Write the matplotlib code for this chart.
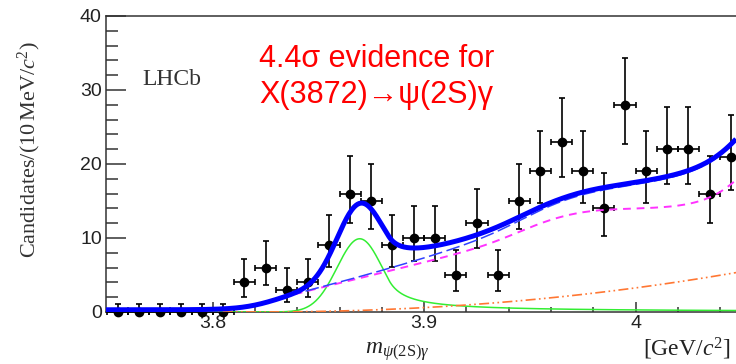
import numpy as np
import matplotlib
matplotlib.use("Agg")
import matplotlib.pyplot as plt
from matplotlib.ticker import MultipleLocator
from math import lgamma, exp, log

# ---- binned data: psi(2S) gamma candidates per 10 MeV/c^2 ----
bin_centers = [3.755, 3.765, 3.775, 3.785, 3.795, 3.805, 3.815, 3.825, 3.835, 3.845,
               3.855, 3.865, 3.875, 3.885, 3.895, 3.905, 3.915, 3.925, 3.935, 3.945,
               3.955, 3.965, 3.975, 3.985, 3.995, 4.005, 4.015, 4.025, 4.035, 4.045]
counts = [0, 0, 0, 0, 0, 0, 4, 6, 3, 4,
          9, 16, 15, 9, 10, 10, 5, 12, 5, 15,
          19, 23, 19, 14, 28, 19, 22, 22, 16, 21]
bin_width = 0.01

# ---- fit model parameters ----
# X(3872) signal: Gaussian core with a power-law tail on the high side
sig_peak, sig_mean, sig_sigma, sig_alpha, sig_n = 9.9, 3.8695, 0.0107, 1.3, 1.0
# smooth combinatorial/partially reconstructed background
bkg_base = 0.3
bkg_step0 = (2.2, 3.828, 0.008)        # height, centre, width
bkg_ramp = (70.0, 3.840, 3.975, 0.008) # slope, start, end, softness
bkg_step2 = (2.0, 3.945, 0.010)
bkg_step3 = (14.0, 4.058, 0.011)
# rising threshold component
thr_amp, thr_ref, thr_onset, thr_power = 5.3, 4.047, 3.82, 2.1

x_lo, x_hi = 3.7495, 4.0475
y_lo, y_hi = 0, 40


def logistic(z):
    return 1.0 / (1.0 + np.exp(-z))


def softplus(z):
    return np.logaddexp(0.0, z)


def signal(x):
    t = (x - sig_mean) / sig_sigma
    core = np.exp(-0.5 * t ** 2)
    a, n = sig_alpha, sig_n
    tail = (n / a) ** n * np.exp(-0.5 * a * a) / np.power(np.maximum(n / a - a + t, 1e-9), n)
    return sig_peak * np.where(t > a, tail, core)


def background_main(x):
    h0, c0, w0 = bkg_step0
    k, r0, r1, s = bkg_ramp
    h2, c2, w2 = bkg_step2
    h3, c3, w3 = bkg_step3
    ramp = k * s * (softplus((x - r0) / s) - softplus((x - r1) / s))
    return (bkg_base + h0 * logistic((x - c0) / w0) + ramp
            + h2 * logistic((x - c2) / w2) + h3 * logistic((x - c3) / w3))


def threshold(x):
    d = np.clip((x - thr_onset) / (thr_ref - thr_onset), 0, None)
    return thr_amp * d ** thr_power


def poisson_cdf(k, mu):
    return sum(exp(i * log(mu) - mu - lgamma(i + 1)) for i in range(k + 1)) if mu > 0 else 1.0


def garwood(n, cl=0.6827):
    """Central Poisson interval; one-sided upper limit for an empty bin."""
    def solve(f, lo, hi):
        for _ in range(80):
            mid = 0.5 * (lo + hi)
            if f(mid) > 0:
                lo = mid
            else:
                hi = mid
        return 0.5 * (lo + hi)
    a = (1 - cl) / 2
    if n == 0:
        return 0.0, -log(1 - cl)
    up = solve(lambda m: poisson_cdf(n, m) - a, n, n + 10 * np.sqrt(n) + 10)
    low = solve(lambda m: a - (1 - poisson_cdf(n - 1, m)), 0, n)
    return low, up


xc = np.array(bin_centers)
yc = np.array(counts, dtype=float)
intervals = [garwood(n) for n in counts]
err_lo = yc - np.array([i[0] for i in intervals])
err_hi = np.array([i[1] for i in intervals]) - yc

plt.rcParams['mathtext.fontset'] = 'custom'
plt.rcParams['mathtext.rm'] = 'Liberation Serif'
plt.rcParams['mathtext.it'] = 'Liberation Serif:italic'

W, H = 736, 364
fig = plt.figure(figsize=(W / 100, H / 100), dpi=100)
ax = fig.add_axes([106 / W, 1 - 312 / H, (W - 106) / W, (312 - 16) / H])

ax.errorbar(xc, yc, xerr=bin_width / 2, yerr=[err_lo, err_hi], fmt='o', color='black',
            ms=6, elinewidth=1.2, capsize=2.3, capthick=1.2, zorder=3, clip_on=False)

xs = np.linspace(x_lo, x_hi, 800)
sig = signal(xs)
bmain = background_main(xs)
thr = threshold(xs)
bkg_total = bmain + thr
total = bkg_total + sig

ax.plot(xs, sig, color='#33ee33', lw=1.1, zorder=4)
ax.plot(xs, thr, color='#ff7733', lw=1.2, dashes=(6, 2, 1, 2, 1, 2), zorder=4)
ax.plot(xs, bmain, color='#ff33ff', lw=1.4, dashes=(4, 3), zorder=5)
ax.plot(xs, bkg_total, color='#3040ff', lw=1.1, dashes=(9, 3), zorder=5)
ax.plot(xs, total, color='#0000ff', lw=3.6, zorder=6, solid_capstyle='butt')

ax.set_xlim(x_lo, x_hi)
ax.set_ylim(y_lo, y_hi)

spine_col = '#333333'
for side in ('left', 'top', 'bottom'):
    ax.spines[side].set_color(spine_col)
    ax.spines[side].set_linewidth(1.1)
ax.spines['right'].set_visible(False)

ax.xaxis.set_major_locator(MultipleLocator(0.1))
ax.xaxis.set_minor_locator(MultipleLocator(0.02))
ax.yaxis.set_major_locator(MultipleLocator(10))
ax.yaxis.set_minor_locator(MultipleLocator(2))
ax.set_xticks([3.8, 3.9, 4.0])
ax.set_xticklabels(['3.8', '3.9', '4'])

ax.tick_params(axis='y', which='major', direction='in', length=14.4, width=1.1,
               color=spine_col, pad=3, labelsize=14, labelcolor='#222222')
ax.tick_params(axis='y', which='minor', direction='in', length=8.4, width=1.1, color=spine_col)
ax.tick_params(axis='x', which='major', direction='in', length=7.2, width=1.1,
               color=spine_col, pad=2, labelsize=14, labelcolor='#222222')
ax.tick_params(axis='x', which='minor', direction='in', length=3.6, width=1.1, color=spine_col)
for lab in ax.get_xticklabels() + ax.get_yticklabels():
    lab.set_family(['Liberation Sans', 'DejaVu Sans'])

# axis titles
fig.text(29 / W, 1 - 150 / H, r'Candidates/(10$\,$MeV/$c^2$)', rotation=90,
         ha='center', va='center', fontsize=16, family='Liberation Serif', color='#333333')
fig.text(365 / W, 1 - 354 / H, r'$m_{\psi(\mathrm{2S})\gamma}$', ha='left', va='baseline',
         fontsize=17, color='#222222')
fig.text(643 / W, 1 - 356 / H, r'[GeV/$c^2$]', ha='left', va='baseline',
         fontsize=17, family='Liberation Serif', color='#222222')

fig.text(142 / W, 1 - 85 / H, 'LHCb', ha='left', va='baseline', fontsize=17,
         family='Liberation Serif', color='#333333')

red_font = ['Liberation Sans', 'DejaVu Sans']
fig.text(259 / W, 1 - 67 / H, '4.4σ evidence for', ha='left', va='baseline',
         fontsize=22, family=red_font, color='#ff0000')
fig.text(259 / W, 1 - 103 / H, 'X(3872)→ψ(2S)γ', ha='left', va='baseline',
         fontsize=22, family=red_font, color='#ff0000')

fig.savefig('out.png', dpi=100)
